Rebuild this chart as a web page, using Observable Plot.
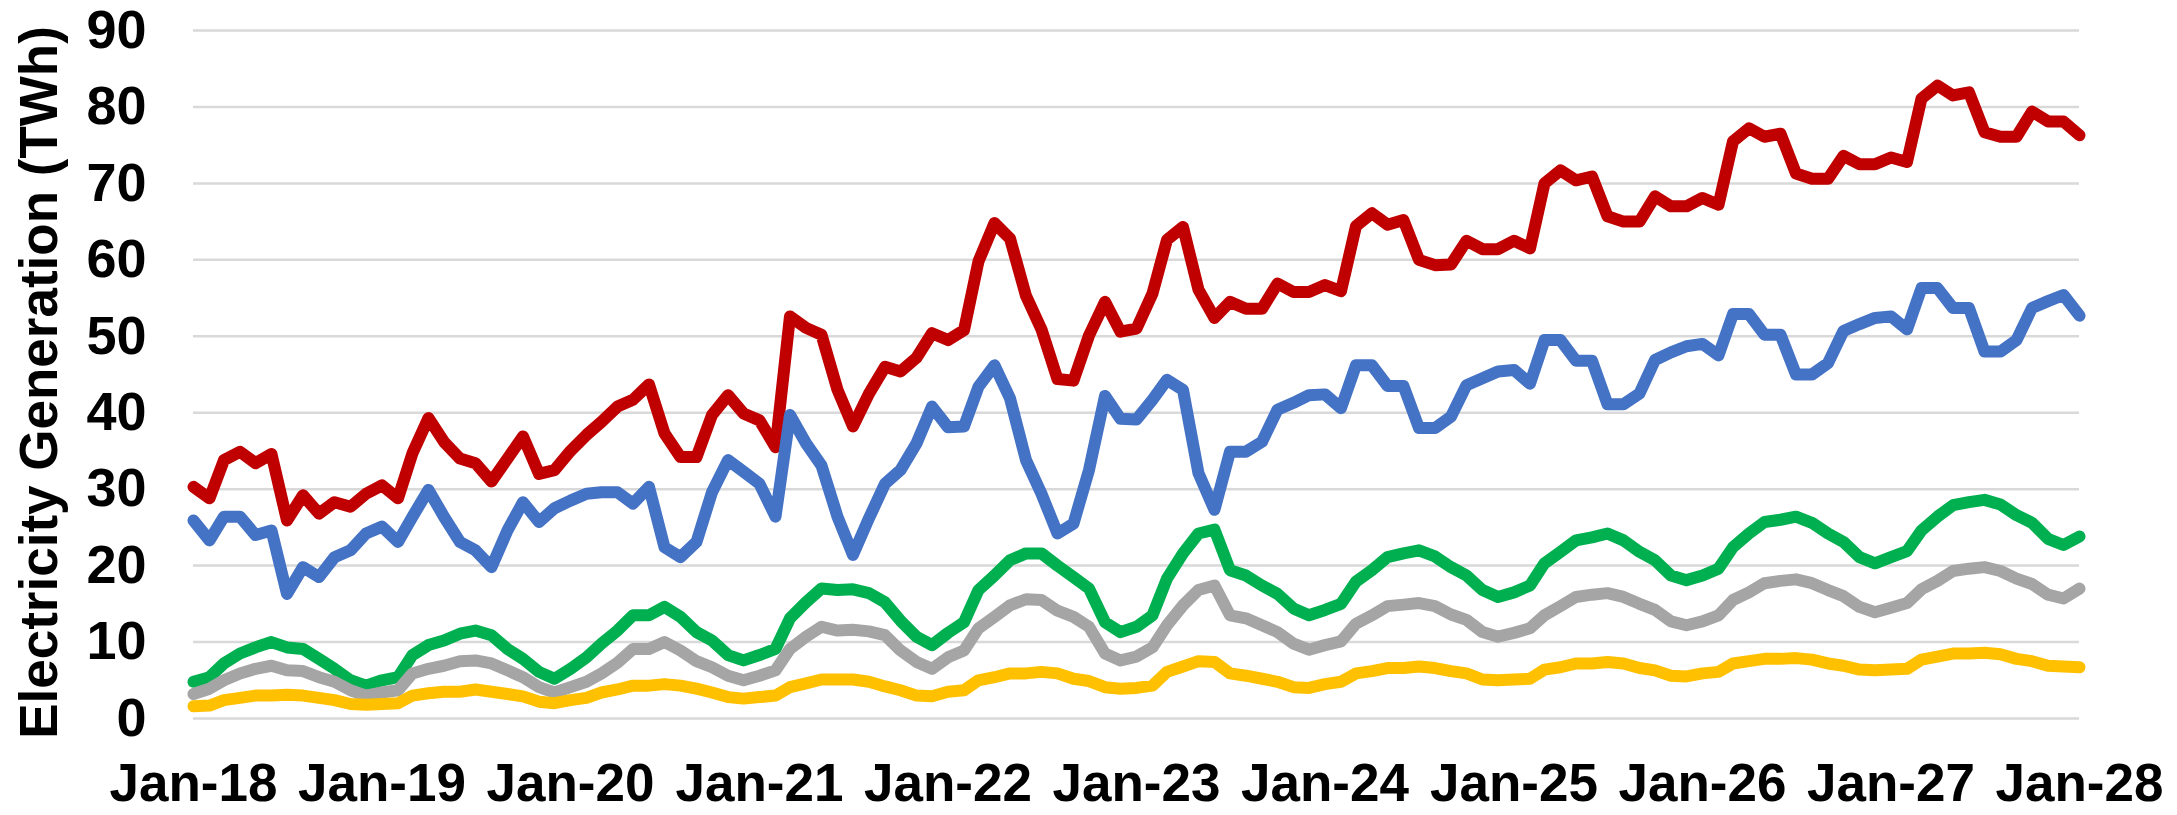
<!DOCTYPE html>
<html>
<head>
<meta charset="utf-8">
<script src="https://cdn.jsdelivr.net/npm/d3@7"></script>
<script src="https://cdn.jsdelivr.net/npm/@observablehq/plot@0.6"></script>
<style>
  html, body { margin: 0; padding: 0; background: #fff; }
  #chart svg { display: block; }
</style>
</head>
<body>
<div id="chart"></div>
<script>
// ---- Data (monthly, Jan-18 .. Jan-28) ----
const startMonth = "2018-01";
const endMonth = "2028-01";
const tickLabels = ["Jan-18","Jan-19","Jan-20","Jan-21","Jan-22","Jan-23","Jan-24","Jan-25","Jan-26","Jan-27","Jan-28"];
const yTicks = [0,10,20,30,40,50,60,70,80,90];
const yLabel = "Electricity Generation (TWh)";

const seriesNames = ["Series 1", "Series 2", "Series 3", "Series 4", "Series 5"];
const seriesColors = ["#C00000", "#4472C4", "#00B050", "#A5A5A5", "#FFC000"];

const series1Values = [
  30.3,28.8,33.8,34.9,33.4,34.6,25.9,29.2,26.8,28.3,27.7,29.4,
  30.5,28.8,34.7,39.3,36.2,34.0,33.4,31.0,34.0,36.9,32.0,32.5,
  35.0,37.1,38.8,40.8,41.7,43.7,37.3,34.2,34.2,39.7,42.3,39.9,
  39.0,35.5,52.6,51.1,50.2,43.0,38.2,42.5,46.0,45.4,47.2,50.4,
  49.5,50.8,59.8,64.8,62.8,55.3,50.9,44.4,44.2,50.1,54.5,50.6,
  51.0,55.6,62.6,64.3,56.1,52.4,54.5,53.6,53.6,56.9,55.8,55.8,
  56.7,55.9,64.4,66.1,64.6,65.2,60.0,59.3,59.4,62.5,61.4,61.4,
  62.5,61.5,70.0,71.7,70.4,70.9,65.7,65.0,65.0,68.3,67.0,67.0,
  68.1,67.2,75.5,77.2,76.1,76.5,71.3,70.6,70.6,73.6,72.5,72.5,
  73.4,72.8,81.1,82.8,81.5,81.9,76.7,76.1,76.1,79.4,78.1,78.1,
  76.3
];
const series2Values = [
  25.9,23.3,26.4,26.4,24.0,24.6,16.3,19.8,18.5,21.1,22.0,24.2,
  25.1,23.1,26.4,29.9,26.4,23.1,22.0,19.8,24.6,28.3,25.7,27.5,
  28.5,29.4,29.6,29.6,28.1,30.3,22.4,21.1,23.1,29.6,33.8,32.3,
  30.7,26.4,39.7,36.0,33.1,26.4,21.4,26.2,30.7,32.5,36.0,40.8,
  38.1,38.2,43.4,46.2,41.9,33.8,29.4,24.2,25.5,32.5,42.2,39.2,
  39.1,41.7,44.3,43.0,32.1,27.3,34.9,34.9,36.2,40.4,41.3,42.3,
  42.4,40.6,46.2,46.2,43.5,43.5,38.0,38.0,39.5,43.6,44.5,45.4,
  45.6,43.8,49.5,49.5,46.8,46.8,41.1,41.1,42.5,46.9,47.9,48.7,
  49.0,47.5,52.9,52.9,50.2,50.2,45.0,45.0,46.5,50.7,51.6,52.4,
  52.6,50.9,56.3,56.3,53.7,53.7,48.0,48.0,49.5,53.7,54.6,55.4,
  52.7
];
const series3Values = [
  4.8,5.4,7.2,8.5,9.3,10.0,9.3,9.1,7.8,6.5,5.0,4.3,
  5.0,5.4,8.3,9.6,10.2,11.1,11.5,10.9,9.1,7.8,6.1,5.2,
  6.5,8.0,9.8,11.5,13.5,13.5,14.6,13.3,11.3,10.2,8.3,7.6,
  8.3,9.1,13.1,15.2,17.0,16.8,16.9,16.4,15.2,12.8,10.7,9.6,
  11.2,12.6,16.8,18.7,20.7,21.6,21.6,20.0,18.5,17.0,12.6,11.3,
  12.0,13.5,18.3,21.6,24.2,24.7,19.4,18.7,17.4,16.3,14.4,13.5,
  14.2,15.0,17.9,19.4,21.1,21.6,22.0,21.2,19.8,18.7,16.8,15.9,
  16.5,17.4,20.3,21.8,23.3,23.7,24.2,23.3,21.8,20.7,18.7,18.1,
  18.7,19.6,22.4,24.2,25.7,26.0,26.4,25.6,24.2,23.1,21.1,20.3,
  21.1,21.9,24.6,26.4,27.9,28.3,28.6,28.0,26.6,25.6,23.5,22.7,
  23.8
];
const series4Values = [
  3.2,3.9,5.0,5.9,6.5,6.9,6.3,6.2,5.4,4.8,3.7,3.0,
  3.4,3.7,5.9,6.5,6.9,7.5,7.6,7.2,6.3,5.4,4.1,3.4,
  4.1,4.8,5.9,7.3,9.1,9.1,10.0,8.9,7.5,6.7,5.6,5.0,
  5.6,6.3,9.1,10.7,12.0,11.5,11.6,11.4,10.9,8.9,7.4,6.5,
  8.0,8.9,11.8,13.3,14.8,15.6,15.5,14.1,13.3,12.0,8.5,7.6,
  8.1,9.3,12.2,14.8,16.8,17.4,13.5,13.1,12.2,11.3,9.8,9.0,
  9.6,10.1,12.4,13.5,14.7,14.9,15.1,14.7,13.6,12.9,11.3,10.7,
  11.2,11.8,13.5,14.7,15.9,16.2,16.4,15.9,15.0,14.2,12.7,12.2,
  12.7,13.5,15.5,16.5,17.7,18.0,18.2,17.7,16.8,16.0,14.6,13.9,
  14.5,15.1,16.9,18.0,19.3,19.6,19.8,19.3,18.3,17.6,16.2,15.7,
  17.0
];
const series5Values = [
  1.6,1.7,2.4,2.7,3.0,3.0,3.1,3.0,2.7,2.4,1.9,1.8,
  1.9,2.0,3.0,3.3,3.5,3.5,3.8,3.5,3.2,2.9,2.2,2.0,
  2.4,2.7,3.4,3.8,4.3,4.3,4.5,4.3,3.9,3.4,2.8,2.6,
  2.8,3.0,4.1,4.6,5.1,5.1,5.1,4.8,4.2,3.7,3.0,2.9,
  3.5,3.7,5.0,5.4,5.9,5.9,6.1,5.9,5.2,4.9,4.1,3.9,
  4.0,4.3,6.1,6.8,7.5,7.4,5.9,5.6,5.2,4.8,4.1,4.0,
  4.5,4.8,5.9,6.2,6.6,6.6,6.8,6.6,6.2,5.9,5.1,5.0,
  5.1,5.2,6.4,6.7,7.2,7.2,7.4,7.2,6.6,6.3,5.6,5.5,
  5.9,6.1,7.2,7.5,7.8,7.8,7.9,7.7,7.2,6.9,6.4,6.3,
  6.4,6.5,7.7,8.1,8.5,8.5,8.6,8.4,7.8,7.5,6.9,6.8,
  6.7
];

// ---- Build table ----
const parseMonth = d3.utcParse("%Y-%m");
const months = d3.utcMonths(parseMonth(startMonth), d3.utcMonth.offset(parseMonth(endMonth), 1));
const allValues = [series1Values, series2Values, series3Values, series4Values, series5Values];
const rows = [];
allValues.forEach((vals, s) => {
  vals.forEach((v, i) => rows.push({series: seriesNames[s], date: months[i], value: v}));
});
const parseTick = d3.utcParse("%b-%y");
const tickDates = tickLabels.map(parseTick);
const fmt = d3.utcFormat("%b-%y");

const font = "'Liberation Sans', Arial, Helvetica, sans-serif";

const chart = Plot.plot({
  width: 2177,
  height: 815,
  marginLeft: 193,
  marginRight: 98,
  marginTop: 30,
  marginBottom: 97,
  style: {fontFamily: font, fontWeight: "bold", background: "#fff", color: "#000"},
  x: {type: "utc", domain: [tickDates[0], tickDates[tickDates.length - 1]]},
  y: {domain: [0, 90]},
  color: {type: "ordinal", domain: seriesNames, range: seriesColors},
  marks: [
    Plot.gridY(yTicks, {stroke: "#d9d9d9", strokeOpacity: 1, strokeWidth: 2.5}),
    Plot.axisY(yTicks, {tickSize: 0, tickPadding: 47, fontSize: 54, fontWeight: "bold", label: null}),
    Plot.axisX(tickDates, {tickSize: 0, tickPadding: 45, fontSize: 53, fontWeight: "bold", tickFormat: fmt, label: null}),
    Plot.text([yLabel], {frameAnchor: "left", textAnchor: "middle", text: d => d, rotate: -90, dx: -153, dy: 8, fontSize: 53, fontWeight: "bold", fill: "#000"}),
    Plot.lineY(rows, {x: "date", y: "value", z: "series", stroke: "series", strokeWidth: 12, strokeLinejoin: "round", strokeLinecap: "round"})
  ]
});
document.getElementById("chart").appendChild(chart);
</script>
</body>
</html>
